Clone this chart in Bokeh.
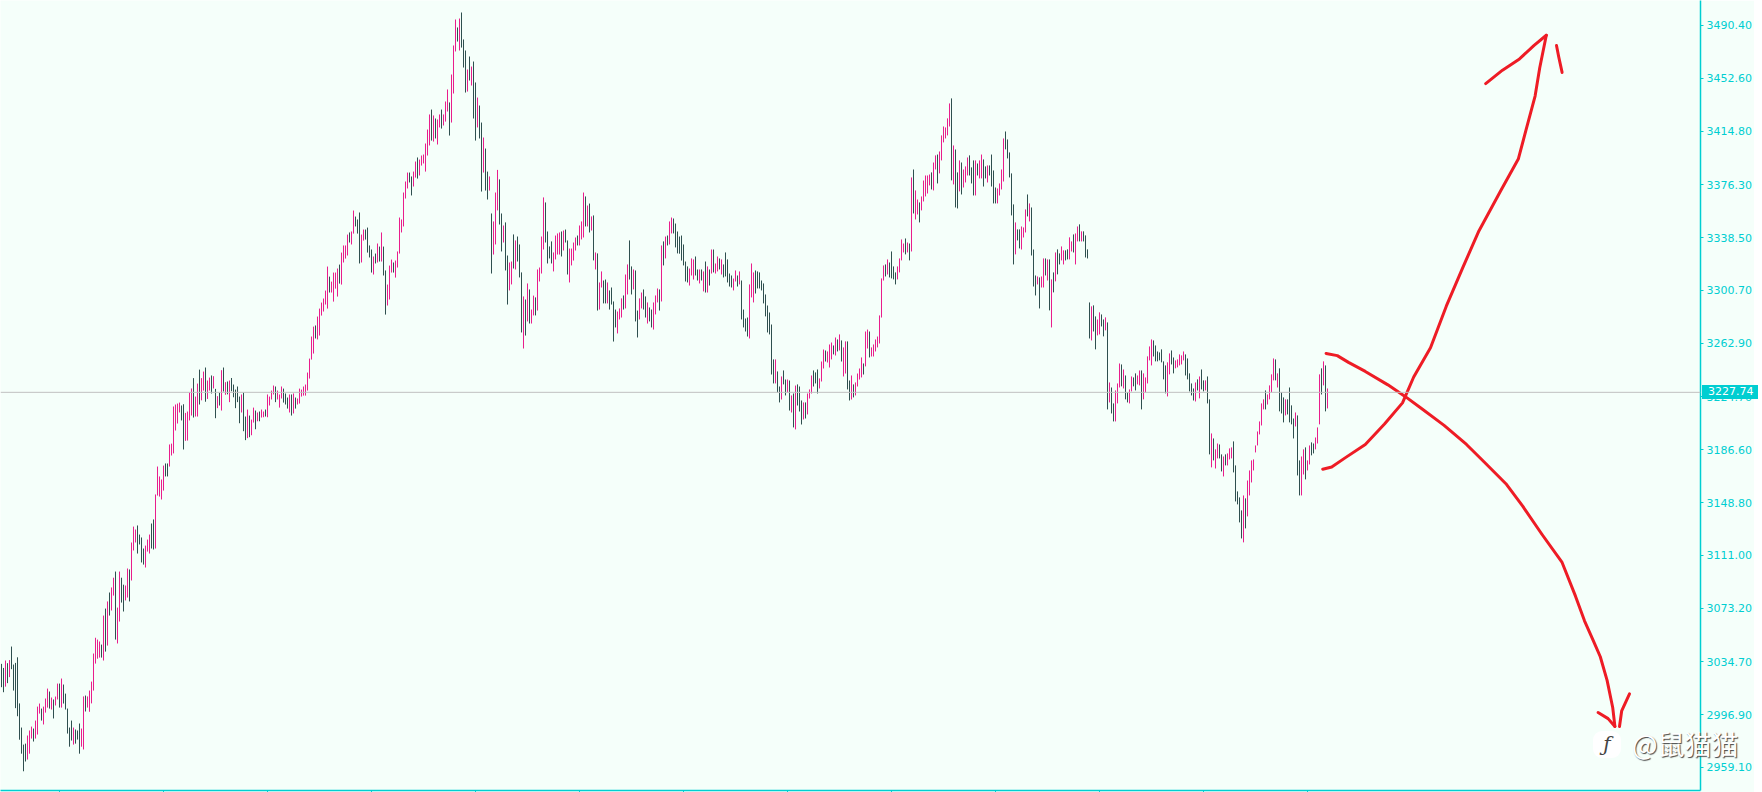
from bokeh.plotting import figure
from bokeh.models import FixedTicker, Span, Div
from bokeh.layouts import column
from bokeh.embed import file_html
from bokeh.resources import INLINE

highs = [
3033.3,3030.4,3035.7,3033.8,3036,3045.7,3032.8,3034,3038,3005,
2987.7,2975.5,2976.2,2982,2985.6,2988.4,2987,2992.7,3002.7,3004.9,
3001.3,3002.7,3008.5,3015.6,3013.5,3009.2,3007.8,3009.9,3019.2,3019.2,
3022.8,3018.5,3012,3001.3,2987.7,2992.7,2987.7,2986.3,2985.6,2990.6,
2987,3010,3010.6,3010,3014.2,3020.6,3040.7,3052,3050.7,3049.3,
3047.1,3067.9,3072.9,3078,3084.4,3088,3095,3099.4,3073.6,3099.4,
3095,3090,3089.4,3101.6,3100.9,3120.2,3131.6,3129.5,3132.4,3125.9,
3123.8,3115.9,3118,3122.3,3125.9,3133.8,3136.7,3154.6,3174.6,3167.5,
3165.3,3175.3,3176.8,3176.8,3190.4,3191,3217.6,3219,3219.7,3220.4,
3218.3,3219.2,3213,3214,3227.6,3230.5,3237.9,3224.7,3234,3244,
3237.9,3242.6,3245.5,3236.2,3238.3,3239.8,3239.3,3230.2,3225,3227.4,
3243.6,3245.5,3235,3235.5,3236.2,3238,3233.3,3229.7,3231.9,3224.7,
3226.2,3227.6,3210.4,3215.4,3211.1,3208.2,3216.8,3214.7,3213.3,3214,
3215.4,3214,3215.4,3226.2,3224.7,3229,3232.6,3231.9,3229,3226.2,
3231.9,3230.4,3226.9,3224,3226.2,3226.2,3226.9,3224,3223.3,3230.4,
3229.7,3231.9,3233.3,3241.9,3251.9,3267.7,3274.8,3275.6,3282,3287.7,
3292,3294.9,3300.6,3317.8,3310.6,3307,3313.5,3313.5,3316.4,3319.2,
3327.8,3332.9,3332.9,3340.7,3342.2,3342.9,3357.9,3353.6,3351.5,3356.5,
3340.7,3344.3,3344.3,3345.7,3332.9,3330,3325,3327.1,3334.3,3332.1,
3342.2,3332.1,3315,3304.9,3318.5,3322.8,3320.7,3322.1,3328.6,3352.9,
3351.5,3370.8,3378.7,3385.1,3385.1,3382.3,3385.8,3393,3395.9,3394.4,
3397.3,3398,3405.9,3415.9,3426.7,3430.2,3426,3423.8,3423.1,3426.7,
3430.2,3426.7,3436,3444.6,3435.3,3455.3,3476.1,3494.7,3489,3495.4,
3499.7,3480.4,3472.5,3458.9,3468.2,3461,3464.6,3449.6,3438.8,3433.1,
3420.9,3410.2,3402.3,3385.8,3382.3,3355.8,3350.1,3370.8,3387,3380.2,
3355.8,3347.2,3349.4,3325.7,3320.7,3321.4,3340.8,3336.5,3339.3,3333.6,
3313.6,3296.4,3294.2,3305.7,3301.4,3287,3297,3295.7,3315.7,3317.1,
3339.3,3367.3,3363.7,3342.9,3332.2,3335.8,3327.9,3340,3341.5,3342.2,
3342.9,3343.6,3344.3,3336.5,3330.7,3330.7,3335,3338.6,3340,3347.2,
3350.1,3370.8,3368,3361.5,3362.9,3353.7,3354.4,3327.9,3327.2,3306.4,
3314.3,3307.8,3308.5,3306.4,3300.7,3302.8,3292.8,3287,3285.6,3287.8,
3295,3297.1,3312.1,3319.3,3336.5,3317.9,3315.7,3315,3286.3,3295,
3299.2,3301.4,3296.4,3292.1,3288.5,3287,3292.1,3297.1,3302.1,3301.4,
3332.9,3335.8,3339.3,3340,3350.1,3352.9,3352.2,3348.6,3342.9,3339.3,
3340,3333.6,3321.4,3317.9,3316.4,3323.6,3322.9,3325,3315.7,3315.7,
3315.7,3314.3,3321.4,3317.9,3315.7,3330,3330,3320,3325,3323.6,
3322.9,3319.3,3327.9,3322.9,3312.8,3311.4,3309.2,3315,3311.4,3314.3,
3307.8,3287,3280.6,3281.3,3305,3320,3313.6,3315,3314.3,3313.6,
3307.8,3305.7,3297.8,3289.9,3284.9,3276.3,3251.3,3251.3,3242.7,3231.9,
3239.1,3243.4,3236.9,3236.9,3236.2,3225.5,3226.9,3232.6,3233.4,3231.9,
3221.9,3220.5,3220.5,3226.9,3229.8,3239.8,3243.4,3242,3244.1,3237.7,
3249.8,3258.4,3257.7,3257,3262,3263.4,3261.3,3267,3265.6,3269.2,
3264.9,3259.9,3264.2,3264.2,3236.2,3239.8,3233.4,3234.8,3241.2,3244.8,
3252.7,3248.4,3271.3,3272.7,3271.3,3259.9,3262,3265.6,3267.7,3282.8,
3309.3,3318.6,3319.3,3322.9,3320.7,3328.6,3317.9,3313.6,3317.9,3323.6,
3337.2,3334.3,3337.9,3335,3334.3,3381.6,3387.3,3372.3,3365.8,3363.7,
3368,3379.4,3383,3383,3383.7,3385.2,3392.3,3397.4,3398,3400.2,
3411.7,3418.1,3417.4,3423.9,3434.6,3438.2,3404.5,3401.6,3385.2,3393.8,
3392.3,3387.3,3389.5,3395.9,3397.4,3388.8,3393.8,3393.8,3391.6,3393.8,
3398,3394.5,3389.5,3390.2,3390.2,3398,3386.6,3374.4,3373.7,3377.3,
3387.3,3409.5,3414.5,3408.8,3399.5,3384.5,3362.3,3349.4,3344.4,3344.4,
3346.5,3345.8,3358.7,3369.4,3363,3360.1,3330,3311.4,3310.7,3310,
3310.7,3323.6,3323.6,3322.9,3322.9,3308.6,3313.6,3327.9,3330.1,3327.2,
3332.2,3329.4,3329.4,3330.1,3338.7,3335.8,3340.8,3341.5,3346.5,3348,
3343,3343,3340.1,3330.1,3292.1,3289.3,3290,3282.1,3279.9,3285,
3283.5,3279.9,3281.4,3277.8,3234.8,3231.2,3219.8,3229.1,3234.1,3248.4,
3247.7,3244.1,3239.8,3227.7,3229.8,3239.1,3238.4,3241.3,3239.8,3243.4,
3243.4,3241.3,3238.4,3253.5,3260.6,3265.6,3264.9,3261.3,3257,3256.3,
3258.5,3249.9,3247,3249.2,3255.6,3257.7,3252.7,3250.6,3251.3,3254.9,
3254.2,3257,3254.9,3252,3241.3,3234.1,3230.5,3234.8,3237,3239.1,
3244.1,3236.3,3236.3,3239.1,3222.7,3198.3,3194.7,3186.9,3191.1,3190.4,
3183.3,3181.8,3183.3,3184,3187.6,3188.3,3192.6,3175.4,3156.8,3152.5,
3143.2,3153.9,3151.8,3164.6,3171.8,3179,3179.7,3189.7,3199.7,3206.9,
3219.8,3222.7,3229.1,3226.2,3232.7,3240.6,3252,3251.3,3241.3,3244.9,
3227.7,3224.1,3222.7,3222.7,3231.2,3218.4,3209,3213.3,3211.2,3179,
3181.8,3186.9,3188.3,3179,3189.7,3191.9,3191.1,3195.4,3202.6,3240.6,
3244.9,3249.9,3247,3230.5,
]

lows = [
3016.6,3013,3017,3019.5,3023.8,3029.5,3014.2,3001.6,2995.8,2979,
2969,2956.4,2963.4,2964.8,2969,2979.8,2977.7,2979.8,2982.7,2997.7,
2992.7,2989.9,2998.4,3002,3001.3,3000.6,2994.2,3003.5,3007.8,3002,
3002,3004.9,3000.6,2983.4,2974,2978.4,2975.5,2976.2,2979.1,2969,
2974,2972,2999.2,3002,2999,3005,3014.2,3033.5,3037,3037.8,
3037.8,3035.7,3042.1,3046.4,3067.9,3071.5,3082.2,3050.7,3047.9,3063.6,
3077.2,3070.8,3078.7,3080.8,3078,3093,3114.5,3120.2,3112.3,3118.8,
3105.9,3104.4,3102.3,3113.7,3112.3,3115.9,3115.2,3115.9,3153.8,3153.1,
3151,3157.4,3167.5,3167.5,3174.6,3182.5,3184,3200.4,3205.4,3213.3,
3207.6,3186.8,3193,3193.2,3207.6,3211.1,3209.7,3210.4,3210.4,3219,
3222,3229,3221,3223,3229,3226.9,3230.5,3209.2,3216.4,3218.3,
3214.7,3228.3,3226,3226.3,3220.7,3228.5,3224.2,3216.4,3220.7,3205.6,
3213.3,3199.9,3193.5,3194.9,3195.6,3197,3206.1,3201.3,3207,3207,
3209.7,3209.9,3210.4,3209.9,3218.3,3222.6,3226.2,3220.7,3222.6,3216.8,
3223.3,3220.4,3219,3216.1,3213.3,3211.1,3212.6,3216.1,3219,3219.7,
3224.7,3225.4,3225.4,3229,3237.6,3251.2,3255.5,3266.3,3265.6,3268.4,
3282.7,3285.6,3290.6,3287.7,3299.2,3299.2,3292.7,3302,3296.3,3305.6,
3304.9,3320.7,3323.5,3325.7,3335,3333.6,3341.4,3346.5,3341.4,3320,
3320.7,3336.4,3337.1,3327.8,3324.3,3313.5,3312.1,3320,3320.7,3321.4,
3321.4,3311.4,3283.4,3289.9,3294.2,3313.5,3313.5,3309.9,3317.1,3327.1,
3342.2,3346.5,3366.5,3373.7,3378,3368.7,3375.1,3381.5,3380.8,3383,
3390.1,3391.6,3385.8,3397.3,3404.5,3408,3407.3,3409.5,3405.2,3417.4,
3416.6,3418.8,3421.6,3428.8,3411.6,3420.9,3441.7,3471.8,3478.9,3472.5,
3474.6,3460.3,3442.4,3443.1,3451,3447.4,3423.8,3408,3417.4,3409.5,
3371.5,3385.1,3372.2,3365.8,3372.2,3312.8,3326.4,3333.6,3358,3347.9,
3328.6,3335,3315,3290.6,3300.7,3305,3316.4,3315.7,3321.4,3310,
3270.6,3259.1,3268.4,3278.5,3277,3277,3282.8,3282.8,3286.3,3307.1,
3312.8,3330,3335,3320,3323.6,3320,3314.3,3322.9,3326.4,3326.4,
3325,3329.3,3335,3312.1,3306.4,3318.6,3322.1,3329.3,3332.9,3332.9,
3337.2,3338.6,3346.5,3346.5,3342.2,3343.6,3322.2,3315.7,3286.3,3287,
3302.8,3291.4,3291.4,3291.4,3287,3290.6,3264.1,3274.2,3269.9,3279.9,
3281.3,3287,3287.8,3297.8,3308.5,3297.8,3301.4,3278.5,3267,3279.9,
3287.8,3287,3281.3,3277,3278.5,3274.2,3272.7,3283.5,3292.1,3286.3,
3292.8,3318.6,3323.6,3332.9,3333.6,3341.5,3341.5,3331.5,3327.2,3327,
3322.1,3318.6,3307.1,3306.4,3304.2,3311.4,3308.5,3311.4,3307.8,3305.7,
3307.8,3300,3299.2,3299.2,3304.2,3312.8,3313.6,3312.8,3314.3,3315.7,
3312.1,3310,3310.7,3306.4,3303.5,3302.8,3300.7,3307.1,3303.5,3305,
3279.9,3274.2,3271.3,3267.7,3266.3,3295.7,3292.1,3298.5,3302.1,3302.1,
3300.7,3291.4,3282.1,3270.6,3269.2,3240.5,3234.1,3234.1,3227.6,3220.5,
3222.6,3233.4,3225.5,3227.6,3214.7,3213.3,3202.6,3201.2,3218.3,3214,
3204.7,3208.3,3209,3211.9,3223.3,3226.9,3231.9,3234.1,3226.9,3230.5,
3235.5,3244.8,3249.8,3249.1,3245.5,3251.3,3254.9,3254.1,3257,3257.7,
3249.8,3239.1,3241.2,3229.8,3221.9,3222.6,3224.1,3225.5,3231.9,3236.9,
3238.4,3240.5,3246.3,3259.1,3252.7,3253.4,3253.4,3257,3259.9,3262.7,
3281.3,3307.8,3310.7,3312.1,3310,3309.3,3308.6,3305,3308.6,3313.6,
3322.2,3327.9,3326.5,3327.9,3322.2,3328.6,3355.8,3351.5,3355.1,3349.4,
3358,3364.4,3368,3370.1,3375.9,3373,3372.3,3387.3,3377.3,3384.5,
3393.8,3406.7,3409.5,3411.7,3418.1,3379.5,3376.6,3360.1,3359.4,3371.6,
3369.4,3374.4,3378,3383,3383,3377.3,3368.7,3368.7,3383,3380.9,
3380.9,3375.1,3380.9,3378,3383,3375.1,3363,3363,3363,3368.7,
3373,3378.7,3401.7,3395.2,3381.6,3354.4,3319.3,3326.5,3336.5,3330.8,
3330,3338.6,3342.2,3353.7,3350.1,3325.7,3303.5,3297.1,3305,3287.8,
3302.8,3302.8,3311.4,3307.8,3286.4,3274.2,3299.3,3307.2,3312.2,3319.3,
3322.2,3319.3,3322.2,3322.9,3322.9,3328.6,3327.9,3319.3,3335.8,3335.8,
3335.8,3335.8,3324.3,3323.6,3266.3,3264.9,3271.3,3258.5,3268.5,3269.2,
3274.9,3267.8,3272.1,3215.5,3220.5,3212.6,3206.9,3206.9,3219.8,3231.2,
3232,3230.5,3222.7,3220.5,3219.8,3228.4,3232,3229.1,3233.4,3232.7,
3215.5,3222.7,3227.7,3234.1,3250.6,3247,3253.4,3249.9,3249.9,3250.6,
3249.2,3237,3227,3224.8,3240.6,3247.7,3241.3,3244.9,3245.6,3247,
3247.7,3250.6,3239.8,3237,3228.4,3225.5,3221.9,3221.2,3229.1,3223.4,
3229.8,3228.4,3229.1,3219.8,3183.3,3174,3179,3173.2,3180.4,3180.4,
3171.1,3167.5,3175.4,3175.4,3179.7,3180.4,3170.4,3149.6,3147.5,3134.6,
3123.1,3120.3,3130.3,3138.9,3153.9,3163.2,3171.8,3184.7,3189.7,3197.6,
3204,3215.5,3215.5,3219,3222.7,3227.7,3236.3,3236.3,3231.2,3214.1,
3212.6,3206.2,3211.2,3211.9,3206.2,3204.8,3194.7,3203.3,3168.2,3153.9,
3153.9,3168.9,3165.4,3171.8,3176.1,3182.6,3184,3186.9,3191.1,3204.8,
3226.2,3232.7,3214.1,3216.2,
]

dirs = "".join([
"DDPDPDDDDD","DDDPPPDPPP","DPPPDPDPPD","PDDDDDPDDD","PPDPPPPPPP",
"DPDPDPPDPP","DDPPDPPPDD","DDPPPDDPPP","PPDDPPPPPP","DDPPPPDPPD",
"PPDPPDPDPD","PDPDPDDDDD","PDDPDPPDPD","PPDPPPPDPP","PDDDPDPDPP",
"PPPPPPPDPP","PPPPDPPPPD","PPPPDPPDDD","PPDDDDPDPD","PDDPPPDPPP",
"PPPPDDPPDP","PPPPPDPDPP","DPPPDPPPDP","DDDPDPDDPD","DPDDPDPPPD",
"DPDDPPDPDD","DPDPDPPDPP","PPDDDDPPPP","DPDDPPPPDP","PPDPDPDPDP",
"PDDPDDDDPP","PDPPDDPDDP","PDDPDDPPPD","PDPDPPDDDD","DDDDPPPDDP",
"DPDPDPDPPD","PDDDDDPPDP","DDDDPPPDDD","DDDDDDDPDD","PDDPDPDPDD",
"DPDPPPDDDP","PPDPPPDPDP","DPPDDPDPPP","PDPPDPPPPP","PPDPDDDDPP",
"PPDPDPDPPD","PPPPPDPPDP","PPPPPDPDDP","DPPPDDDPDP","PDDPDDDDPP",
"PPDDDDDPDD","PPPDPDDDPD","PPDPDPDPDD","PPDDPPDPPD","PDDDDPDDPP",
"DDPDPDDPPP","DPDDPPDDPP","DPPPPPDDDD","DDDPPDDPPP","PPDDDDDPDP",
"DDPDDPDPPD","DPDPPPDDDD","DPDPPPPPPP","PPDPPPPDPD","DDPDDDDPDD",
"PPDPPDDPPP","DPDP",
])

y_ticks = [2959.10, 2996.90, 3034.70, 3073.20, 3111.00, 3148.80, 3186.60, 3224.70,
           3262.90, 3300.70, 3338.50, 3376.30, 3414.80, 3452.60, 3490.40]
x_ticks = [29, 81, 133, 185, 237, 289, 341, 393, 445, 497, 549, 601, 653]
last_price = 3227.74

up_x = [660.6,665.1,671.8,681.9,691.5,700.5,706.1,714.5,722.4,730.8,738.7,749.4,758.4,762.3,766.8,769.1,772.4]
up_y = [3172.7,3174.3,3180.8,3190.4,3205,3220.2,3238.7,3259.6,3289.4,3317.6,3343.3,3371.5,3394.8,3415.8,3439.9,3460,3483.4]
up_head_x = [742.1,750.5,759,766.3,772.4]
up_head_y = [3448.8,3458.4,3466.5,3476.1,3483.4]
up_tail_x = [777.5,778.6,780.3]
up_tail_y = [3476.1,3468,3456.8]
down_x = [662.3,667.9,673.5,681.9,693.2,701.6,710,721.3,732.5,742.1,752.2,760.6,770.2,780.3,787,791.5,796,799.4,802.8,805.6,806.7]
down_y = [3255.6,3254,3249.2,3242.7,3233.1,3225,3216.2,3204.1,3190.4,3176.8,3162.3,3146.2,3126.1,3105.9,3081.8,3064.1,3049.6,3038.4,3021.5,3002.1,2988.5]
down_head_x = [798.3,803.3,806.7]
down_head_y = [2998.5,2994.1,2988.5]
down_tail_x = [809,810.1,814]
down_tail_y = [2988.5,2999.7,3011.8]

BG = "#f5fffa"
TURQ = "#00ced1"
PINK = "#e91e8c"
DARK = "#2f4f4f"
RED = "#ee1c25"

p = figure(width=1762, height=792, frame_width=1700, frame_height=790,
           x_range=(-0.5, 849.5), y_range=(2942.63, 3508.3),
           output_backend="svg", toolbar_location=None, y_axis_location="right",
           background_fill_color=BG, border_fill_color=BG,
           min_border_left=0, min_border_top=0, min_border_bottom=0, min_border_right=0)
p.outline_line_color = None
p.grid.visible = False

xa = p.xaxis[0]
xa.ticker = FixedTicker(ticks=x_ticks)
xa.axis_line_color = TURQ
xa.axis_line_width = 1.5
xa.major_tick_line_color = TURQ
xa.major_tick_in = 0
xa.major_tick_out = 2
xa.minor_tick_line_color = None
xa.major_label_overrides = {t: "" for t in x_ticks}
xa.major_label_standoff = 0

ya = p.yaxis[0]
ya.ticker = FixedTicker(ticks=y_ticks)
ya.major_label_overrides = {t: f"{t:.2f}" for t in y_ticks}
ya.axis_line_color = TURQ
ya.axis_line_width = 1.5
ya.major_tick_line_color = TURQ
ya.major_tick_in = 0
ya.major_tick_out = 3
ya.minor_tick_line_color = None
ya.major_label_text_color = TURQ
ya.major_label_text_font = "DejaVu Sans"
ya.major_label_text_font_size = "11px"
ya.major_label_standoff = 3

p.add_layout(Span(location=last_price, dimension="width", line_color="#c0c0c0", line_width=1))

idx = list(range(len(highs)))
cols = [PINK if d == "P" else DARK for d in dirs]
p.segment(x0=idx, y0=lows, x1=idx, y1=highs, line_color=cols, line_width=1)

for xs, ys in [(up_x, up_y), (up_head_x, up_head_y), (up_tail_x, up_tail_y),
               (down_x, down_y), (down_head_x, down_head_y), (down_tail_x, down_tail_y)]:
    p.line(xs, ys, line_color=RED, line_width=3, line_cap="round", line_join="round")

# texts that sit across the axis: the plot clips its annotations to the frame
tag = Div(text=f"{last_price:.2f}", width=56, height=14, margin=0, styles={
    "position": "absolute", "left": "1702px", "top": "385px", "background": TURQ,
    "color": "white", "font": "11px/14px 'DejaVu Sans'", "padding-left": "6px",
    "box-sizing": "border-box", "z-index": "5"})
logo = Div(text="ƒ", width=28, height=27, margin=0, styles={
    "position": "absolute", "left": "1593px", "top": "731px", "background": "white",
    "border-radius": "9px", "color": "#444444", "text-align": "center",
    "font": "italic 20px/27px 'DejaVu Serif'", "z-index": "5"})
mark = Div(text="@鼠猫猫", width=120, height=36, margin=0, styles={
    "position": "absolute", "left": "1632px", "top": "726px", "color": "white",
    "font": "27px/36px 'Noto Sans CJK SC'", "text-shadow": "1px 1px 1px #444444",
    "z-index": "5"})

page = column(p, tag, logo, mark, spacing=0)
open("out.html", "w").write(file_html(page, INLINE))
